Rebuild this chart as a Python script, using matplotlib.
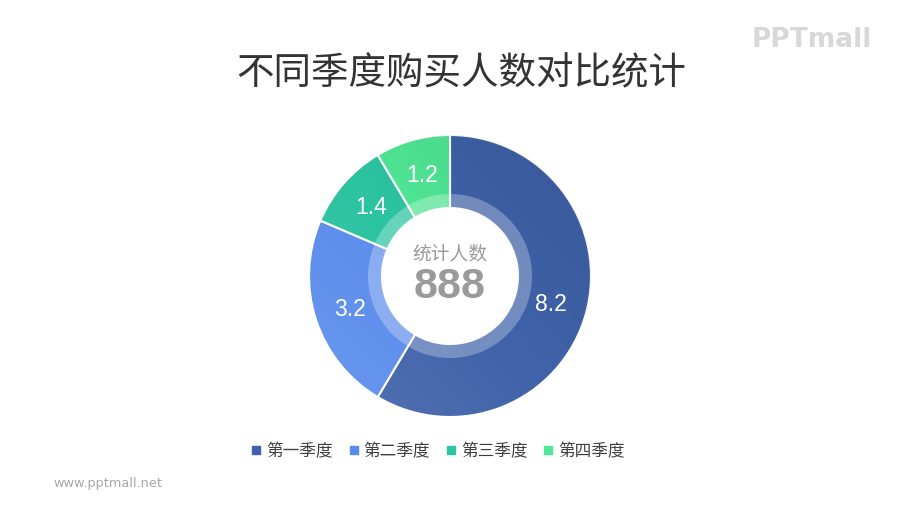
import numpy as np
import matplotlib
matplotlib.use('Agg')
import matplotlib.pyplot as plt
from matplotlib.patches import Circle, Wedge
from matplotlib.lines import Line2D

plt.rcParams['font.family'] = ['Noto Sans CJK SC', 'DejaVu Sans']

# Data
quarters = ['第一季度', '第二季度', '第三季度', '第四季度']
buyers = [8.2, 3.2, 1.4, 1.2]
colors = ['#3f62a9', '#5a8cec', '#2cc3a1', '#4fe795']
total_label = '888'

W, H = 900, 506
fig = plt.figure(figsize=(W / 100, H / 100), dpi=100)
fig.patch.set_facecolor('white')

# pie axes: centre (450, 277) px, outer radius 141 px
cx, cy, R = 450, 277, 141
ax = fig.add_axes([(cx - R) / W, 1 - (cy + R) / H, 2 * R / W, 2 * R / H])
total = sum(buyers)
wedges, texts, autotexts = ax.pie(
    buyers, colors=colors, startangle=90, counterclock=False, radius=1,
    autopct=lambda p: f'{p * total / 100:.1f}', pctdistance=0.745,
    wedgeprops=dict(width=1 - 68 / 141, edgecolor='white', linewidth=1.5),
    textprops=dict(color='white', fontsize=16.5, family='Liberation Sans'))
ax.set_xlim(-1, 1)
ax.set_ylim(-1, 1)
ax.set_aspect('equal')
ax.axis('off')

# soft shading over the ring
grad = np.linspace(0, 1, 256)
gx, gy = np.meshgrid(grad, grad)
shade = np.zeros((256, 256, 4))
t = (gx + (1 - gy)) / 2
shade[..., :3] = np.where(t[..., None] < 0.5, 1.0, 0.0)
shade[..., 3] = np.abs(t - 0.5) * 0.22
im = ax.imshow(shade, extent=(-1, 1, -1, 1), origin='upper', zorder=2)
clip = Circle((0, 0), 1, transform=ax.transData)
im.set_clip_path(clip)

# translucent inner band and white hole
ax.add_patch(Wedge((0, 0), 82 / 141, 0, 360, width=(82 - 68) / 141,
                   facecolor='white', alpha=0.28, edgecolor='none', zorder=3))
ax.add_patch(Circle((0, 0), 68 / 141, facecolor='white', edgecolor='none', zorder=4))
for t_ in autotexts:
    t_.set_zorder(5)

# centre text
fig.text(cx / W, 1 - 254 / H, '统计人数', ha='center', va='center',
         fontsize=13.5, color='#9a9a9a')
fig.text(cx / W, 1 - 287 / H, total_label, ha='center', va='center',
         fontsize=31, fontweight='bold', color='#9a9a9a', family='Liberation Sans')

# title
fig.text(461 / W, 1 - 74 / H, '不同季度购买人数对比统计', ha='center', va='center',
         fontsize=27, color='#333333')

# legend
handles = [Line2D([], [], marker='s', linestyle='none', markersize=6,
                  markerfacecolor=c, markeredgecolor=c) for c in colors]
fig.legend(handles, quarters, loc='center', bbox_to_anchor=(438 / W, 1 - 452 / H),
           ncol=4, frameon=False, fontsize=12, handlelength=0.6, handletextpad=0.3,
           columnspacing=0.95, labelcolor='#404040')

# watermark and footer
fig.text(812 / W, 1 - 40 / H, 'PPTmall', ha='center', va='center', fontsize=19,
         fontweight='bold', color='#d8d8d8', family='DejaVu Sans')
fig.text(53 / W, 1 - 484 / H, 'www.pptmall.net', ha='left', va='center',
         fontsize=9.3, color='#a8a8a8', family='DejaVu Sans')

fig.savefig('out.png', dpi=100)
